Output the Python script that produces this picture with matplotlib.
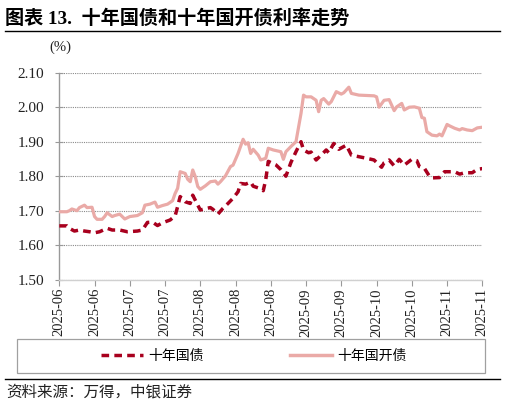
import matplotlib
matplotlib.use("Agg")
import matplotlib.pyplot as plt
from matplotlib.lines import Line2D
from matplotlib.patches import Rectangle
import pandas as pd

# ---- data ----
start_date = "2025-06-06"
end_date = "2025-11-21"
tick_step_days = 14

cdb_days = [0, 3, 4, 5, 7, 8, 10, 11, 13, 14, 15, 17, 18, 19, 21, 22, 24, 26, 28, 31,
            33, 34, 36, 38, 39, 41, 43, 45, 46, 47, 48, 50, 51, 52, 53, 54, 55, 56, 58, 60,
            62, 63, 64, 66, 68, 69, 71, 73, 74, 75, 76, 77, 79, 80, 82, 83, 85, 88, 89, 90,
            92, 94, 96, 97, 98, 100, 102, 103, 104, 105, 107, 108, 110, 112, 113, 115, 116, 119, 125, 126,
            127, 129, 131, 133, 134, 136, 137, 139, 141, 143, 144, 145, 146, 148, 150, 151, 152, 154, 155, 157,
            159, 160, 162, 164, 166, 168]
cdb_vals = [1.697, 1.697, 1.700, 1.705, 1.700, 1.709, 1.716, 1.709, 1.710, 1.683, 1.675, 1.675, 1.683, 1.694, 1.683, 1.686, 1.690, 1.676, 1.683, 1.686,
            1.694, 1.716, 1.719, 1.725, 1.710, 1.715, 1.719, 1.729, 1.750, 1.765, 1.813, 1.808, 1.791, 1.784, 1.818, 1.799, 1.770, 1.762, 1.772, 1.784,
            1.786, 1.777, 1.784, 1.801, 1.828, 1.832, 1.866, 1.907, 1.893, 1.897, 1.866, 1.878, 1.861, 1.847, 1.852, 1.881, 1.876, 1.871, 1.849, 1.871,
            1.886, 1.900, 1.982, 2.035, 2.030, 2.030, 2.020, 1.987, 2.020, 2.025, 2.009, 2.016, 2.045, 2.038, 2.042, 2.058, 2.040, 2.035, 2.033, 2.030,
            2.000, 2.020, 2.022, 1.990, 2.001, 2.011, 1.992, 2.000, 2.001, 1.997, 1.970, 1.968, 1.929, 1.919, 1.917, 1.922, 1.917, 1.950, 1.946, 1.939,
            1.934, 1.938, 1.934, 1.932, 1.940, 1.942]

gov_days = [0, 3, 4, 6, 8, 10, 12, 14, 16, 19, 21, 24, 27, 31, 33, 35, 37, 39, 41, 44,
            46, 47, 48, 50, 52, 53, 55, 56, 58, 60, 61, 63, 65, 67, 69, 71, 72, 74, 76, 77,
            79, 81, 82, 83, 86, 88, 90, 92, 94, 96, 97, 99, 100, 102, 104, 106, 107, 109, 111, 114,
            116, 122, 125, 128, 129, 131, 133, 135, 137, 140, 142, 143, 145, 147, 148, 151, 153, 157, 159, 161,
            164, 166, 168]
gov_vals = [1.656, 1.656, 1.649, 1.641, 1.644, 1.641, 1.639, 1.636, 1.639, 1.649, 1.644, 1.644, 1.639, 1.641, 1.644, 1.666, 1.667, 1.657, 1.665, 1.673,
            1.685, 1.712, 1.741, 1.726, 1.721, 1.745, 1.716, 1.702, 1.706, 1.709, 1.704, 1.690, 1.707, 1.721, 1.736, 1.755, 1.779, 1.777, 1.783, 1.771,
            1.766, 1.758, 1.790, 1.843, 1.833, 1.819, 1.800, 1.840, 1.871, 1.900, 1.876, 1.868, 1.870, 1.847, 1.861, 1.876, 1.868, 1.895, 1.878, 1.890,
            1.861, 1.852, 1.847, 1.826, 1.839, 1.847, 1.830, 1.849, 1.832, 1.849, 1.845, 1.828, 1.823, 1.800, 1.795, 1.796, 1.813, 1.813, 1.806, 1.810,
            1.810, 1.820, 1.822]

y_ticks = [1.50, 1.60, 1.70, 1.80, 1.90, 2.00, 2.10]
series_names = ["十年国债", "十年国开债"]
title_text = "图表 13.  十年国债和十年国开债利率走势"
source_text = "资料来源：万得，中银证券"
unit_text = "(%)"

# ---- styling ----
serif = ["Liberation Serif", "Noto Sans CJK SC"]
cjk = ["Noto Sans CJK SC", "DejaVu Sans"]
c_gov = "#A8001E"
c_cdb = "#EAAAA7"

W, H = 505, 405
fig = plt.figure(figsize=(W / 100, H / 100), dpi=100)
fig.patch.set_facecolor("white")

def fx(px):
    return px / W

def fy(py):
    return 1 - py / H

ax_l, ax_r, ax_t, ax_b = 59.3, 482.3, 72.7, 279.7
ax = fig.add_axes([fx(ax_l), fy(ax_b), fx(ax_r - ax_l), (ax_b - ax_t) / H])

t0 = pd.Timestamp(start_date)
t1 = pd.Timestamp(end_date)
cdb_dates = t0 + pd.to_timedelta(cdb_days, unit="D")
gov_dates = t0 + pd.to_timedelta(gov_days, unit="D")

ax.plot(cdb_dates, cdb_vals, color=c_cdb, lw=2.3, solid_joinstyle="round", zorder=3)
ax.plot(gov_dates, gov_vals, color=c_gov, lw=2.5, dashes=(2.2, 1.5), zorder=4)

ax.set_xlim(t0, t1)
ax.set_ylim(1.50, 2.10)
ax.set_yticks(y_ticks)
ax.set_yticklabels([f"{v:.2f}" for v in y_ticks], family=serif, fontsize=11, color="#222222")

xt = pd.date_range(t0, t1, freq=f"{tick_step_days}D")
ax.set_xticks(xt)
ax.set_xticklabels([d.strftime("%Y-%m") for d in xt], rotation=90, family=serif,
                   fontsize=10.5, color="#222222")

ax.grid(axis="y", color="#8a8a8a", linestyle=(0, (1, 1)), lw=0.8)
ax.set_axisbelow(True)
for s in ["top", "right"]:
    ax.spines[s].set_visible(False)
ax.spines["left"].set_color("#999999")
ax.spines["bottom"].set_color("#d0d0d0")
ax.spines["left"].set_linewidth(1.0)
ax.spines["bottom"].set_linewidth(1.0)
ax.tick_params(axis="y", length=6, direction="inout", color="#999999", pad=8)
ax.tick_params(axis="x", length=4, color="#999999", pad=2)

# unit label
fig.text(fx(60), fy(47), unit_text, family=serif, fontsize=10.5, ha="center", va="center", color="#222222")

# title
fig.text(fx(5), fy(18), title_text, family=serif, fontsize=13.8, fontweight="bold",
         ha="left", va="center", color="black")
fig.add_artist(Line2D([fx(5), fx(500)], [fy(30.5), fy(30.5)], color="black", lw=1.0))

# legend frame
fig.add_artist(Rectangle((fx(17), fy(373)), fx(485 - 17), (373 - 339) / H,
                         fill=False, edgecolor="#a0a0a0", lw=0.9))
handles = [Line2D([], [], color=c_gov, lw=2.5, dashes=(2.2, 1.5)),
           Line2D([], [], color=c_cdb, lw=2.5)]
fig.legend(handles, series_names, loc="center", bbox_to_anchor=(fx(254), fy(356)),
           ncol=2, frameon=False, prop={"family": cjk, "size": 10},
           handlelength=3.0, handletextpad=0.4, columnspacing=6.2)

# source
fig.add_artist(Line2D([fx(5), fx(500)], [fy(379), fy(379)], color="black", lw=1.0))
fig.text(fx(6), fy(392), source_text, family=cjk, fontsize=11.2,
         ha="left", va="center", color="#222222")

fig.savefig("out.png", dpi=100, facecolor="white")
